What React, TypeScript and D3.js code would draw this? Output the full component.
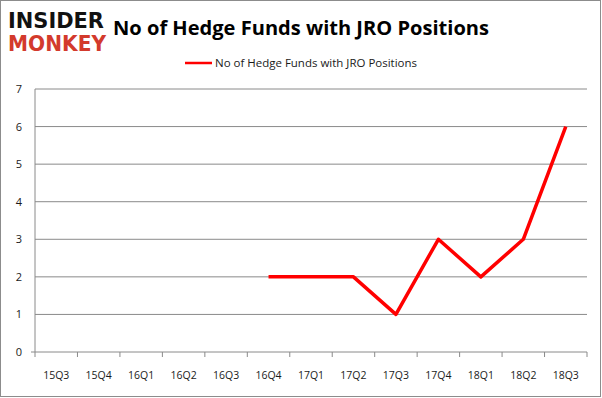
import React, { useEffect, useRef } from "react";
import * as d3 from "d3";

const quarters = ["15Q3", "15Q4", "16Q1", "16Q2", "16Q3", "16Q4", "17Q1", "17Q2", "17Q3", "17Q4", "18Q1", "18Q2", "18Q3"];
const funds: (number | null)[] = [null, null, null, null, null, 2, 2, 2, 1, 3, 2, 3, 6];
const yTicks = [0, 1, 2, 3, 4, 5, 6, 7];
const seriesName = "No of Hedge Funds with JRO Positions";
const title = "No of Hedge Funds with JRO Positions";

const W = 602, H = 398;
const margin = { top: 89, right: 15, bottom: 46, left: 35 };

export default function App() {
  const ref = useRef<SVGSVGElement>(null);

  useEffect(() => {
    const svg = d3.select(ref.current);
    svg.selectAll("*").remove();

    const w = W - margin.left - margin.right;
    const h = H - margin.top - margin.bottom;
    const font = "Open Sans, Noto Sans, sans-serif";

    svg.append("rect")
      .attr("x", 0.5).attr("y", 0.5)
      .attr("width", W - 2).attr("height", H - 2)
      .attr("fill", "#fff").attr("stroke", "#8c8c8c");

    // logo
    svg.append("text")
      .attr("x", 8).attr("y", 28)
      .attr("textLength", 96).attr("lengthAdjust", "spacingAndGlyphs")
      .style("font-family", "DejaVu Sans, sans-serif").style("font-weight", 900)
      .style("font-size", "21px").attr("fill", "#111")
      .text("INSIDER");
    svg.append("text")
      .attr("x", 8).attr("y", 51)
      .attr("textLength", 98).attr("lengthAdjust", "spacingAndGlyphs")
      .style("font-family", "DejaVu Sans, sans-serif").style("font-weight", 900)
      .style("font-size", "21px").attr("fill", "#d33a2c")
      .text("MONKEY");

    svg.append("text")
      .attr("x", 301).attr("y", 35)
      .attr("text-anchor", "middle")
      .style("font-family", font).style("font-weight", 700)
      .style("font-size", "20px").attr("fill", "#000")
      .attr("textLength", 376).attr("lengthAdjust", "spacingAndGlyphs")
      .text(title);

    // legend
    svg.append("line")
      .attr("x1", 185).attr("x2", 212).attr("y1", 63).attr("y2", 63)
      .attr("stroke", "#ff0000").attr("stroke-width", 2.5);
    svg.append("text")
      .attr("x", 215).attr("y", 67)
      .style("font-family", font).style("font-size", "11.5px").attr("fill", "#1a1a1a")
      .attr("textLength", 202).attr("lengthAdjust", "spacingAndGlyphs")
      .text(seriesName);

    const g = svg.append("g").attr("transform", `translate(${margin.left},${margin.top})`);

    const x = d3.scaleBand().domain(quarters).range([0, w]);
    const y = d3.scaleLinear().domain([0, 7]).range([h, 0]);

    g.selectAll(".grid")
      .data(yTicks.filter(d => d > 0))
      .join("line")
      .attr("x1", 0).attr("x2", w)
      .attr("y1", d => y(d)).attr("y2", d => y(d))
      .attr("stroke", "#8a8a8a").attr("stroke-width", 1);

    g.selectAll(".ylab")
      .data(yTicks)
      .join("text")
      .attr("x", -13).attr("y", d => y(d) + 4)
      .attr("text-anchor", "end")
      .style("font-family", font).style("font-size", "11px").attr("fill", "#1a1a1a")
      .text(d => d);

    // axes
    g.append("line").attr("x1", 0).attr("x2", 0).attr("y1", 0).attr("y2", h)
      .attr("stroke", "#8a8a8a");
    g.append("line").attr("x1", -4).attr("x2", w).attr("y1", h).attr("y2", h)
      .attr("stroke", "#8a8a8a");

    const bounds = quarters.map(q => x(q)!).concat([w]);
    g.selectAll(".xtick")
      .data(bounds)
      .join("line")
      .attr("x1", d => d).attr("x2", d => d)
      .attr("y1", h).attr("y2", h + 5)
      .attr("stroke", "#8a8a8a");

    g.selectAll(".xlab")
      .data(quarters)
      .join("text")
      .attr("x", d => x(d)! + x.bandwidth() / 2)
      .attr("y", h + 27)
      .attr("text-anchor", "middle")
      .style("font-family", font).style("font-size", "10.5px").attr("fill", "#1a1a1a")
      .text(d => d);

    const line = d3.line<number | null>()
      .defined(d => d !== null)
      .x((d, i) => x(quarters[i])! + x.bandwidth() / 2)
      .y(d => y(d as number));

    g.append("path")
      .datum(funds)
      .attr("d", line)
      .attr("fill", "none")
      .attr("stroke", "#ff0000")
      .attr("stroke-width", 3.5)
      .attr("stroke-linejoin", "round");
  }, []);

  return (
    <svg ref={ref} width={W} height={H} style={{ position: "absolute", left: 0, top: 0 }} />
  );
}
